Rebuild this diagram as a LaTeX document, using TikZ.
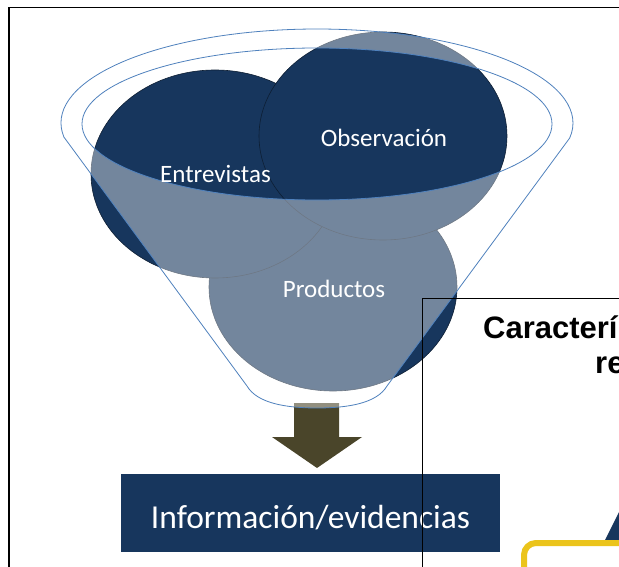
\documentclass[tikz,border=0pt]{standalone}
\usepackage{fontspec}
\setmainfont{Carlito}
\newfontfamily\arialfont{Liberation Sans}
\usetikzlibrary{positioning}
\definecolor{azulosc}{HTML}{17365D}
\definecolor{azulborde}{HTML}{4F81BD}
\definecolor{oliva}{HTML}{4A452A}
\definecolor{amarillo}{HTML}{EBC41B}

\begin{document}
\begin{tikzpicture}[x=1pt,y=1pt,
    circulo/.style={fill=azulosc, draw=black!45!azulosc, line width=0.6pt},
    etiqueta/.style={text=white, font=\fontsize{25}{30}\selectfont, anchor=base, inner sep=0pt},
    caja/.style={fill=azulosc, text=white, font=\fontsize{33.5}{40}\selectfont, minimum width=379pt, minimum height=78pt, inner sep=0pt, text height=32pt, text depth=2pt},
    embudo/.style={draw=azulborde, line width=0.8pt, fill=white, fill opacity=0.4, even odd rule}]
    \useasboundingbox (0,0) rectangle (619,566);

        % Marco exterior
        \draw[line width=1.5pt] (9,-40) -- (9,558.5) -- (680,558.5);

        % Los tres circulos
        \filldraw[circulo] (333,279) ellipse [x radius=124pt, y radius=104pt];
        \filldraw[circulo] (215,392) ellipse [x radius=124pt, y radius=104pt];
        \filldraw[circulo] (383,430) ellipse [x radius=124pt, y radius=104pt];

        % Flecha hacia abajo
        \fill[oliva] (294,163) -- (339,163) -- (339,129) -- (362,129) -- (317,98) -- (272,129) -- (294,129) -- cycle;

        % Embudo
        \path[embudo] (317,443) ++(188.6:256pt and 94pt) arc [start angle=188.6, end angle=-9.2, x radius=256pt, y radius=94pt]
            -- (387,180) .. controls (377,163) and (349,158) .. (317,158)
            .. controls (285,158) and (257,163) .. (247,180) -- cycle
            (317,442) ellipse [x radius=235pt, y radius=76pt];

        % Textos de los circulos
        \node[etiqueta] (entrevistas) at (215.5,383) {Entrevistas};
        \node[etiqueta] (observacion) at (384,419) {Observación};
        \node[etiqueta] (productos) at (334,269) {Productos};

        % Caja de resultado
        \node[caja] (info) at (310.5,53) {Información/evidencias};

        % Recuadro de la derecha
        \draw[line width=0.8pt] (422,-40) -- (422,268) -- (680,268);
        \node[anchor=base west, inner sep=0pt, font=\arialfont\bfseries\fontsize{31}{35}\selectfont] (titulo) at (483,228) {Caracterí};
        \node[anchor=base west, inner sep=0pt, font=\arialfont\bfseries\fontsize{31}{35}\selectfont] (titulob) at (595,193) {re};

        % Esquina inferior derecha
        \fill[azulosc] (604,24) -- (624,64) -- (624,24) -- cycle;
        \filldraw[draw=amarillo, fill=white, line width=6pt, rounded corners=12pt] (524,-40) rectangle (700,23);
    \end{tikzpicture}
\end{document}
